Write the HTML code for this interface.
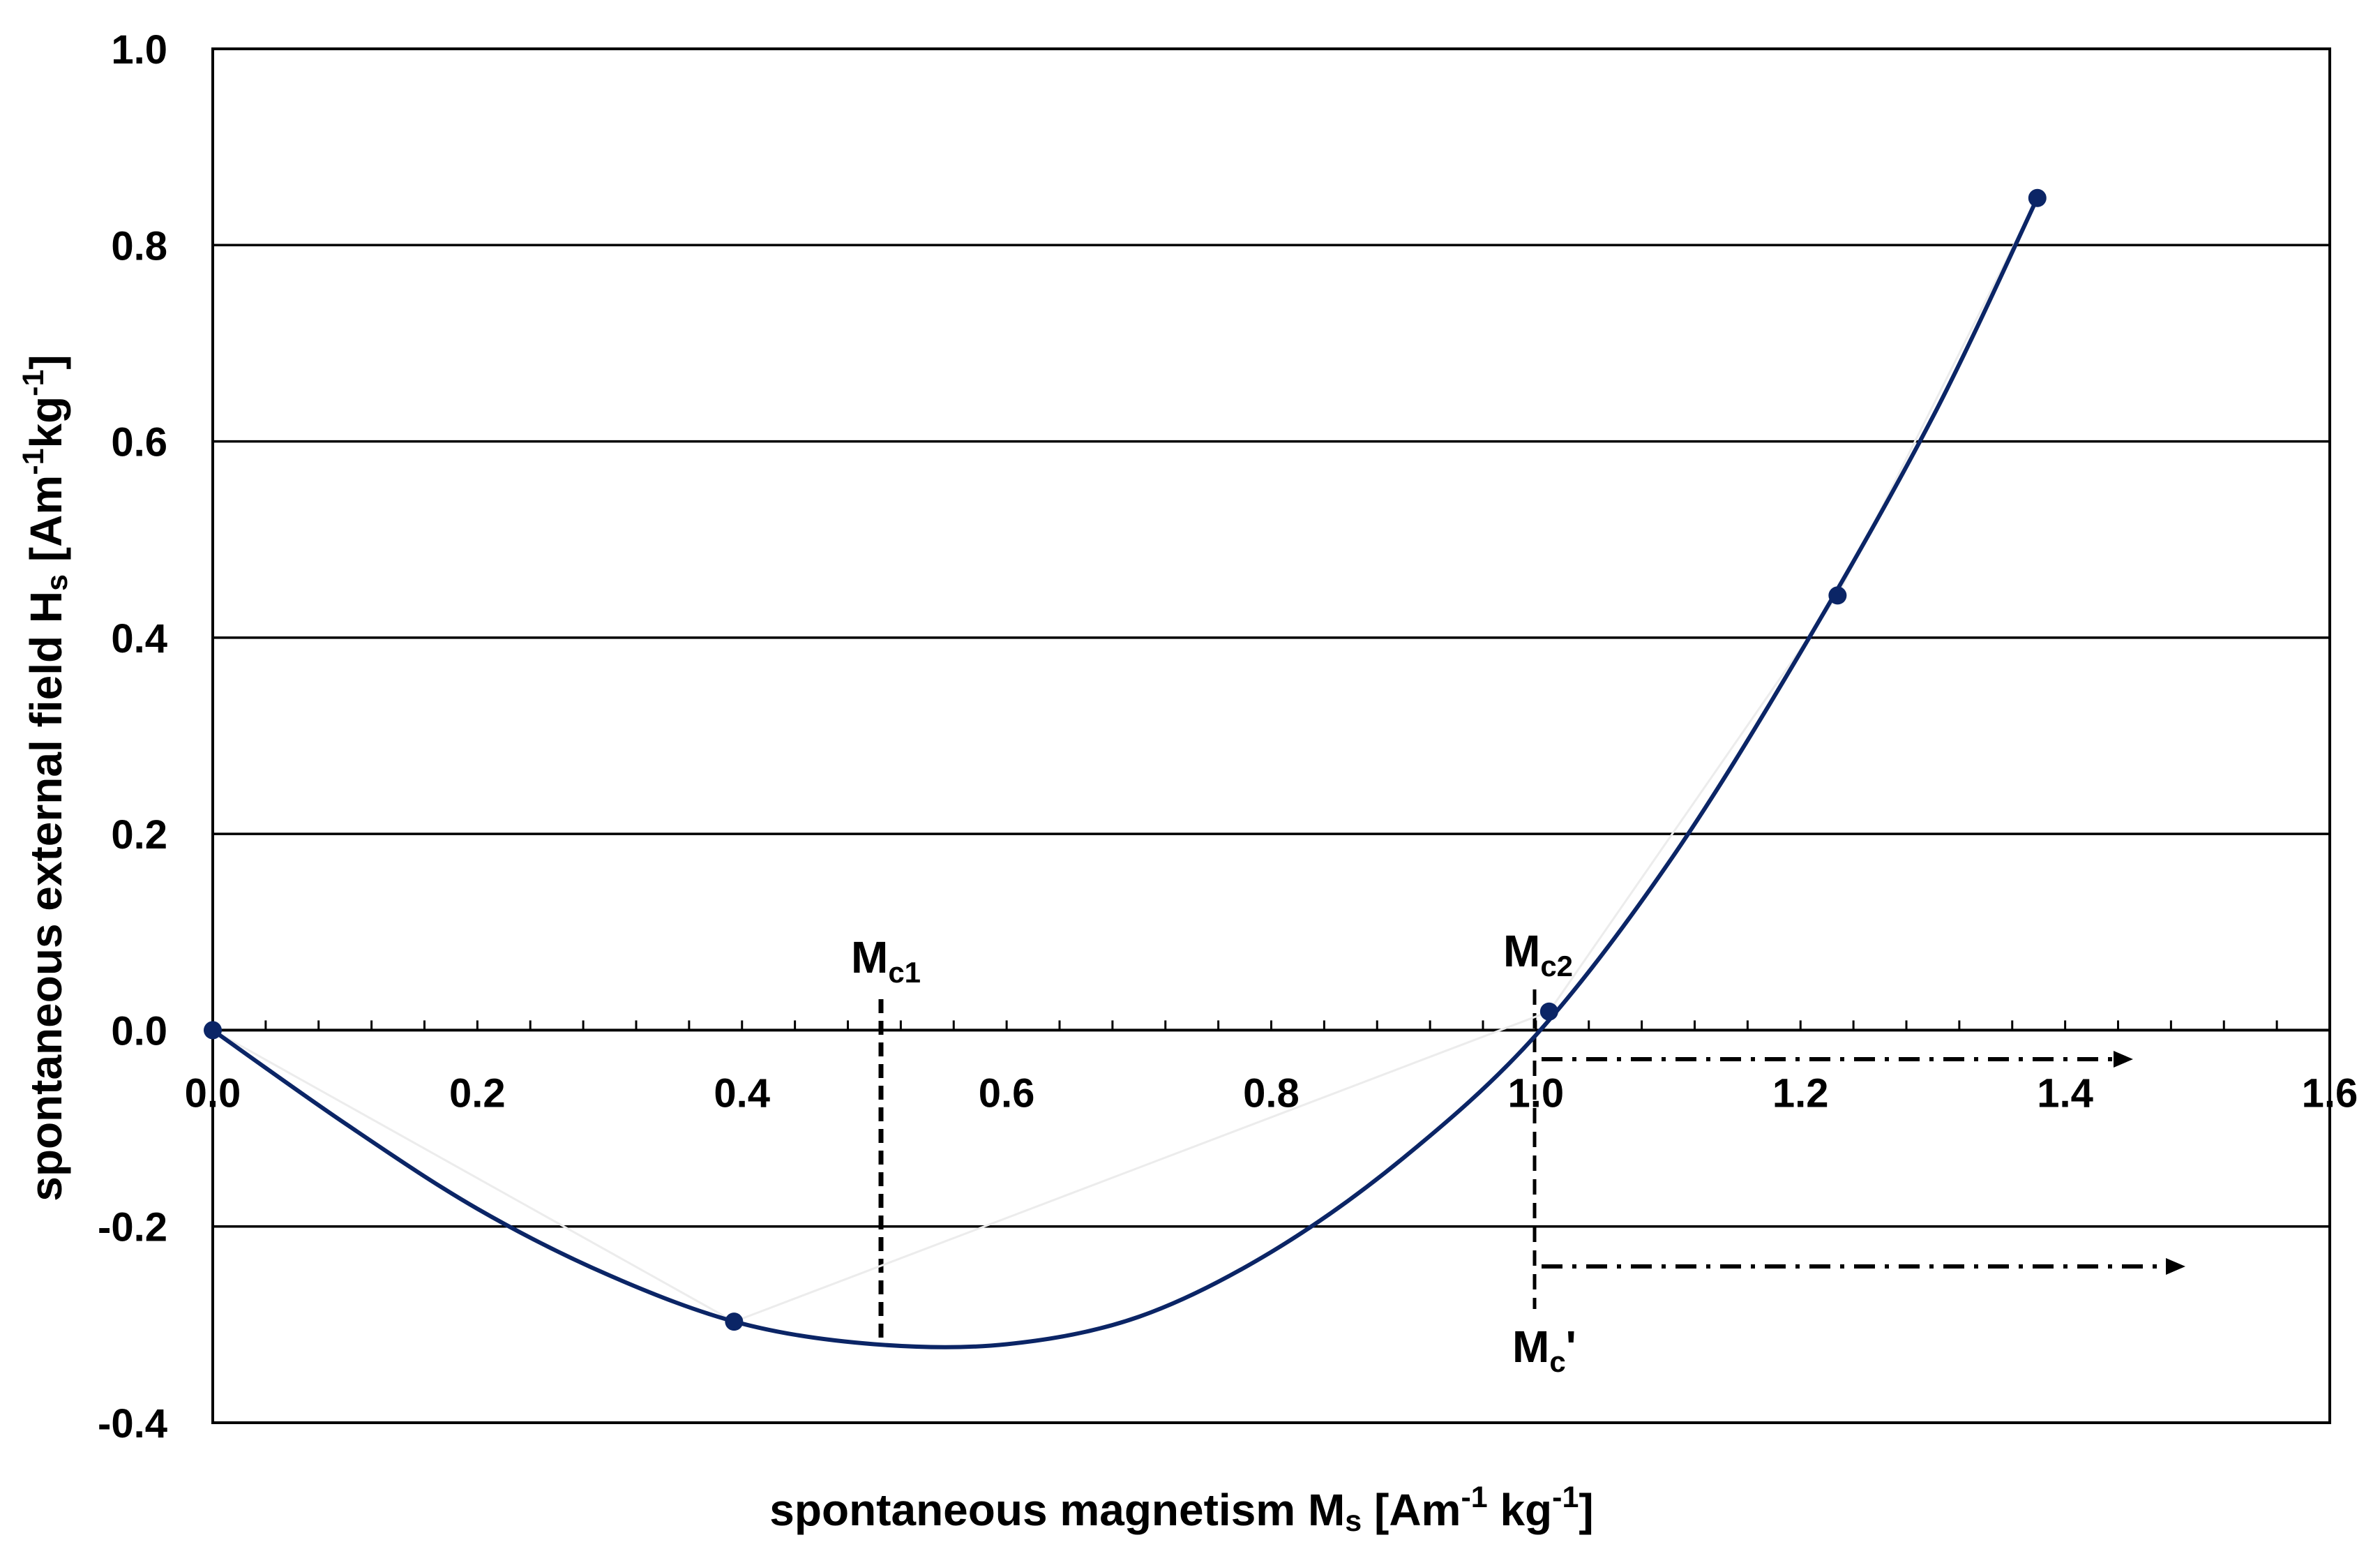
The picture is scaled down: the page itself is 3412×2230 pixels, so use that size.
<!DOCTYPE html>
<html><head><meta charset="utf-8"><style>
html,body{margin:0;padding:0;background:#fff;}
svg{display:block;}
text{font-family:"Liberation Sans",sans-serif;font-weight:bold;fill:#000;}
</style></head><body>
<svg id="chart" width="3412" height="2230" viewBox="0 0 3412 2230" xmlns="http://www.w3.org/2000/svg">
<g id="grid"></g>
<g id="ticks"></g>
<g id="annot"></g>
<g id="series"></g>
<text x="1694" y="2186" font-size="64" text-anchor="middle">spontaneous magnetism M<tspan font-size="43" dy="8">s</tspan><tspan dy="-8"> [Am</tspan><tspan font-size="43" dy="-26">-1</tspan><tspan dy="26"> kg</tspan><tspan font-size="43" dy="-26">-1</tspan><tspan dy="26">]</tspan></text>
<text transform="translate(88,1115) rotate(-90)" font-size="64" text-anchor="middle">spontaneous external field H<tspan font-size="43" dy="8">s</tspan><tspan dy="-8"> [Am</tspan><tspan font-size="43" dy="-26">-1</tspan><tspan dy="26">kg</tspan><tspan font-size="43" dy="-26">-1</tspan><tspan dy="26">]</tspan></text>
</svg>
<script>
const xTicks = [0, 0.2, 0.4, 0.6, 0.8, 1.0, 1.2, 1.4, 1.6];
const xTickLabels = ["0.0","0.2","0.4","0.6","0.8","1.0","1.2","1.4","1.6"];
const yTicks = [1.0, 0.8, 0.6, 0.4, 0.2, 0.0, -0.2, -0.4];
const yTickLabels = ["1.0","0.8","0.6","0.4","0.2","0.0","-0.2","-0.4"];
const curveX = [0, 0.1, 0.2, 0.3, 0.4, 0.5, 0.6, 0.7, 0.8, 0.9, 1.0, 1.1, 1.2, 1.3, 1.379];
const curveY = [0, -0.095, -0.182, -0.25, -0.299, -0.32, -0.32, -0.292, -0.226, -0.13, -0.005, 0.17, 0.385, 0.625, 0.848];
const pointX = [0, 0.394, 1.01, 1.228, 1.379];
const pointY = [0, -0.297, 0.019, 0.443, 0.848];

const X0=305, X1=3340, Y0=70, Y1=2039;
const xMin=0, xMax=1.6, yMin=-0.4, yMax=1.0;
function sx(v){return X0+(v-xMin)/(xMax-xMin)*(X1-X0);}
function sy(v){return Y1-(v-yMin)/(yMax-yMin)*(Y1-Y0);}
const NS="http://www.w3.org/2000/svg";
function mk(parent,tag,attrs){const e=document.createElementNS(NS,tag);for(const k in attrs)e.setAttribute(k,attrs[k]);parent.appendChild(e);return e;}
const grid=document.getElementById('grid'), ticks=document.getElementById('ticks'), annot=document.getElementById('annot'), series=document.getElementById('series');

yTicks.forEach((v,i)=>{
  if(v!==1.0 && v!==-0.4){
    const l=mk(grid,'line',{x1:X0,x2:X1,y1:sy(v),y2:sy(v),stroke:'#000','stroke-width':v===0?4:3.5});
    
    
  }
  const t=mk(ticks,'text',{x:240,y:sy(v)+21,'font-size':58,'text-anchor':'end'});
  t.textContent=yTickLabels[i];
  
  
});
const frame=mk(grid,'rect',{x:X0,y:Y0,width:X1-X0,height:Y1-Y0,fill:'none',stroke:'#000','stroke-width':4});



for(let k=1;k<40;k++){
  const v=k*0.04;
  const tk=mk(ticks,'line',{x1:sx(v),x2:sx(v),y1:sy(0),y2:sy(0)-14,stroke:'#000','stroke-width':3});
  
  
}
xTicks.forEach((v,i)=>{
  const t=mk(ticks,'text',{x:sx(v),y:sy(0)+110,'font-size':58,'text-anchor':'middle'});
  t.textContent=xTickLabels[i];
  
  
});

let fp='';
pointX.forEach((v,i)=>{fp+=(i?'L':'M')+sx(v)+' '+sy(pointY[i]);});
const faint=mk(series,'path',{d:fp,fill:'none',stroke:'#ececec','stroke-width':3});



const P=curveX.map((v,i)=>[sx(v),sy(curveY[i])]);
let d='M'+P[0][0]+' '+P[0][1];
for(let i=0;i<P.length-1;i++){
  const p0=P[Math.max(0,i-1)],p1=P[i],p2=P[i+1],p3=P[Math.min(P.length-1,i+2)];
  const c1=[p1[0]+(p2[0]-p0[0])/6,p1[1]+(p2[1]-p0[1])/6];
  const c2=[p2[0]-(p3[0]-p1[0])/6,p2[1]-(p3[1]-p1[1])/6];
  d+=`C${c1[0]} ${c1[1]} ${c2[0]} ${c2[1]} ${p2[0]} ${p2[1]}`;
}
const curve=mk(series,'path',{d:d,fill:'none',stroke:'#0b2566','stroke-width':6});


pointX.forEach((v,i)=>{
  const c=mk(series,'circle',{cx:sx(v),cy:sy(pointY[i]),r:13,fill:'#0b2566'});
  
  
});

const dash1=mk(annot,'line',{x1:1263,x2:1263,y1:1432,y2:1929,stroke:'#000','stroke-width':7,'stroke-dasharray':'20 11'});


const dash2=mk(annot,'line',{x1:2200,x2:2200,y1:1418,y2:1876,stroke:'#000','stroke-width':5,'stroke-dasharray':'22 12'});


[[2210,1518,3030],[2210,1815,3105]].forEach(a=>{
  const l=mk(annot,'line',{x1:a[0],x2:a[2],y1:a[1],y2:a[1],stroke:'#000','stroke-width':6,'stroke-dasharray':'30 14 6 14'});
  
  
  const h=mk(annot,'polygon',{points:`${a[2]},${a[1]-12} ${a[2]+28},${a[1]} ${a[2]},${a[1]+12}`,fill:'#000'});
  
  
});
function lbl(x,y,sub,name,extra){
  const t=mk(annot,'text',{x:x,y:y,'font-size':64});
  t.innerHTML='M<tspan font-size="42" dy="14">'+sub+'</tspan>'+(extra||'');
  
  
}
lbl(1220,1394,'c1','mc1-label');
lbl(2155,1385,'c2','mc2-label');
lbl(2168,1952,'c','mc-prime-label','<tspan dy="-14">\'</tspan>');
</script>
</body></html>
